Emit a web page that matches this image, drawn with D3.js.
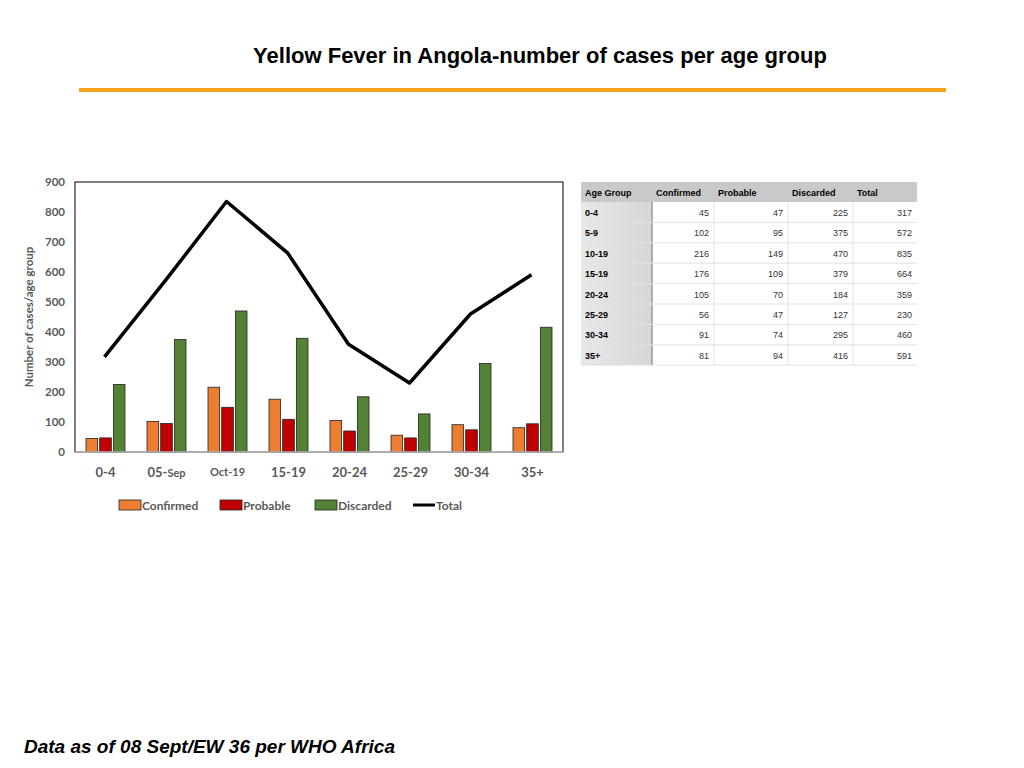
<!DOCTYPE html>
<html><head><meta charset="utf-8">
<script src="https://cdn.jsdelivr.net/npm/d3@7"></script>
<style>body{margin:0;background:#fff}svg{display:block}</style>
</head><body><svg id="c" width="1024" height="768"></svg>
<script>
const categories=["0-4","05-Sep","Oct-19","15-19","20-24","25-29","30-34","35+"];
const tableGroups=["0-4","5-9","10-19","15-19","20-24","25-29","30-34","35+"];
const confirmed=[45,102,216,176,105,56,91,81];
const probable=[47,95,149,109,70,47,74,94];
const discarded=[225,375,470,379,184,127,295,416];
const total=[317,572,835,664,359,230,460,591];
const yTicks=[0,100,200,300,400,500,600,700,800,900];
const seriesNames=["Confirmed","Probable","Discarded"];
const colors={Confirmed:"#ed7d31",Probable:"#c00000",Discarded:"#548235"};

const svg=d3.select("#c");
const F="Lato, 'Open Sans', sans-serif";
svg.append("text").attr("x",540).attr("y",63).attr("text-anchor","middle").attr("font-family","Liberation Sans, Arial").attr("font-weight","bold").attr("font-size",22).text("Yellow Fever in Angola-number of cases per age group");
svg.append("rect").attr("x",79).attr("y",88).attr("width",867).attr("height",4).attr("fill","#f7a11a");
svg.append("text").attr("x",24).attr("y",753).attr("font-family","Liberation Sans, Arial").attr("font-weight","bold").attr("font-style","italic").attr("font-size",19).text("Data as of 08 Sept/EW 36 per WHO Africa");

const L=75,R=563,T=182,B=452;
const x=d3.scaleBand().domain(categories).range([L,R]);
const y=d3.scaleLinear().domain([0,900]).range([B,T]);
const xs=d3.scaleBand().domain(seriesNames).range([11,50]).paddingInner(0.15);
svg.append("rect").attr("x",L).attr("y",T).attr("width",R-L).attr("height",B-T).attr("fill","none").attr("stroke","#000").attr("stroke-width",1);
const ya=svg.append("g").attr("transform",`translate(${L},0)`).call(d3.axisLeft(y).tickValues(yTicks).tickSize(0).tickPadding(10));
ya.select(".domain").remove();
ya.selectAll("text").attr("font-family",F).attr("font-weight","bold").attr("font-size",11.5).attr("fill","#595959");
const data={Confirmed:confirmed,Probable:probable,Discarded:discarded};
seriesNames.forEach(s=>{
  svg.append("g").selectAll("rect").data(categories).join("rect")
    .attr("x",c=>x(c)+xs(s)).attr("width",xs.bandwidth())
    .attr("y",(c,i)=>y(data[s][i])).attr("height",(c,i)=>B-y(data[s][i]))
    .attr("fill",colors[s]).attr("stroke","#222").attr("stroke-width",0.8);
});
svg.append("line").attr("x1",L).attr("x2",R).attr("y1",B).attr("y2",B).attr("stroke","#bbb").attr("stroke-width",1.5);
svg.append("path").datum(total).attr("fill","none").attr("stroke","#000").attr("stroke-width",3.5).attr("stroke-linejoin","round")
  .attr("d",d3.line().x((d,i)=>x(categories[i])+x.bandwidth()/2-1).y(d=>y(d)));
const xa=svg.append("g").attr("transform",`translate(0,${B})`).call(d3.axisBottom(x).tickSize(0).tickPadding(16));
xa.select(".domain").remove();
xa.selectAll("text").attr("font-family",F).attr("font-weight","bold").attr("font-size",13).attr("fill","#595959")
  .each(function(d){ if(d==="05-Sep"){d3.select(this).text("05-").append("tspan").attr("font-size",11).text("Sep");}
    if(d==="Oct-19"){d3.select(this).attr("font-size",11);} });
svg.append("text").attr("transform","translate(33,317) rotate(-90)").attr("text-anchor","middle").attr("font-family",F).attr("font-weight","bold").attr("font-size",11.5).attr("fill","#595959").text("Number of cases/age group");
// legend
const leg=[["Confirmed",119],["Probable",220],["Discarded",315],["Total",413]];
leg.forEach(([n,lx])=>{
  if(n==="Total") svg.append("line").attr("x1",lx).attr("x2",lx+22).attr("y1",505).attr("y2",505).attr("stroke","#000").attr("stroke-width",3);
  else svg.append("rect").attr("x",lx).attr("y",500).attr("width",22).attr("height",10).attr("fill",colors[n]).attr("stroke","#222").attr("stroke-width",0.8);
  svg.append("text").attr("x",lx+23).attr("y",509.5).attr("font-family",F).attr("font-weight","bold").attr("font-size",12).attr("fill","#595959").text(n);
});
// table
const colX=[581,652,714,788,853,917];
const hdr=["Age Group","Confirmed","Probable","Discarded","Total"];
const tg=svg.append("g").attr("font-family","Liberation Sans, Arial").attr("font-size",9);
tg.append("rect").attr("x",581).attr("y",182).attr("width",336).attr("height",20).attr("fill","#c9c9c9");
const grad=svg.append("defs").append("linearGradient").attr("id","g1");
grad.append("stop").attr("offset","0").attr("stop-color","#e8e8e8");grad.append("stop").attr("offset","1").attr("stop-color","#d6d6d6");
tg.append("rect").attr("x",581).attr("y",202).attr("width",71).attr("height",163).attr("fill","url(#g1)");
tg.append("line").attr("x1",652).attr("x2",652).attr("y1",202).attr("y2",365).attr("stroke","#999").attr("stroke-width",1.5);
hdr.forEach((h,i)=>tg.append("text").attr("x",colX[i]+4).attr("y",196).attr("font-weight","bold").text(h));
const rows=tableGroups.map((g,i)=>[g,confirmed[i],probable[i],discarded[i],total[i]]);
rows.forEach((r,ri)=>{
  const ry=202+ri*20.4;
  tg.append("line").attr("x1",581).attr("x2",917).attr("y1",ry+20.4).attr("y2",ry+20.4).attr("stroke","#e2e2e2");
  for(let c=2;c<5;c++) tg.append("line").attr("x1",colX[c]).attr("x2",colX[c]).attr("y1",ry).attr("y2",ry+20.4).attr("stroke","#e2e2e2");
  r.forEach((v,ci)=>{
    if(ci===0) tg.append("text").attr("x",585).attr("y",ry+14).attr("font-weight","bold").text(v);
    else tg.append("text").attr("x",colX[ci+1]-5).attr("y",ry+14).attr("text-anchor","end").attr("fill","#333").text(v);
  });
});
</script></body></html>
